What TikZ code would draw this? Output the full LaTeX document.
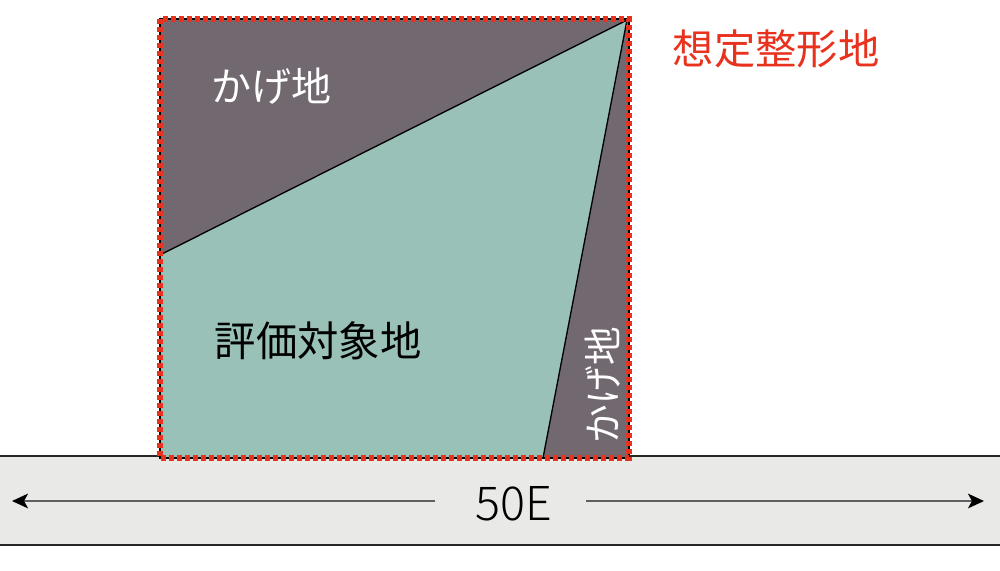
\documentclass[tikz,border=0pt]{standalone}
\usepackage{fontspec}
\newfontfamily\jp{Noto Sans CJK JP}
\newfontfamily\jpl{Noto Sans CJK JP Light}
\usetikzlibrary{arrows.meta}
\definecolor{kagegray}{HTML}{726870}
\definecolor{lot}{HTML}{9AC1B8}
\definecolor{road}{HTML}{E9E9E8}
\definecolor{redline}{HTML}{E8321E}
\definecolor{arrowgray}{HTML}{606060}
\tikzset{
  edge/.style={draw=black,line width=1pt},
  lbl/.style={inner sep=0pt,font=\jp\fontsize{31}{31}\selectfont},
  reddash/.style={draw=redline,line width=4.5pt,dash pattern={on 4pt off 2pt}},
  dimarrow/.style={draw=arrowgray,line width=1.5pt,-{Stealth[length=12pt,width=11pt,inset=3pt,fill=black,color=black]}},
}
\begin{document}
\begin{tikzpicture}[x=0.75pt,y=-0.75pt]
\useasboundingbox (0,0) rectangle (1000,571);
% road
\fill[road] (0,456) rectangle (1000,545);
\draw[draw=black!85,line width=1.5pt] (0,456) -- (1000,456);
\draw[draw=black!85,line width=1.5pt] (0,545) -- (1000,545);
% corners
\coordinate (tl) at (160,19);
\coordinate (tr) at (629,19);
\coordinate (br) at (629,458);
\coordinate (bl) at (160,458);
\coordinate (apex) at (627,20);
\coordinate (lm) at (160,255);
\coordinate (bm) at (543,458);
% fills
\fill[kagegray] (tl) rectangle (br);
\fill[lot] (lm) -- (apex) -- (bm) -- (bl) -- cycle;
\draw[edge] (lm) -- (apex) -- (bm);
\draw[edge] (tl) rectangle (br);
\draw[reddash] (tl) rectangle (br);
% labels
\node[lbl,text=white,font=\jp\fontsize{30}{30}\selectfont] (kage1) at (271,86) {かげ地};
\node[lbl,text=black] (hyoka) at (318,341) {評価対象地};
\node[lbl,text=white,rotate=90,font=\jp\fontsize{29}{29}\selectfont] (kage2) at (603,385) {かげ地};
\node[lbl,text=redline] (sotei) at (776,49) {想定整形地};
\node[inner sep=0pt,font=\jpl\fontsize{35}{35}\selectfont] (dim) at (514,504) {50E};
% dimension arrows
\coordinate (la) at (12,501);
\coordinate (ls) at (435,501);
\coordinate (ra) at (984,501);
\coordinate (rs) at (586,501);
\draw[dimarrow] (ls) -- (la);
\draw[dimarrow] (rs) -- (ra);
\end{tikzpicture}
\end{document}
